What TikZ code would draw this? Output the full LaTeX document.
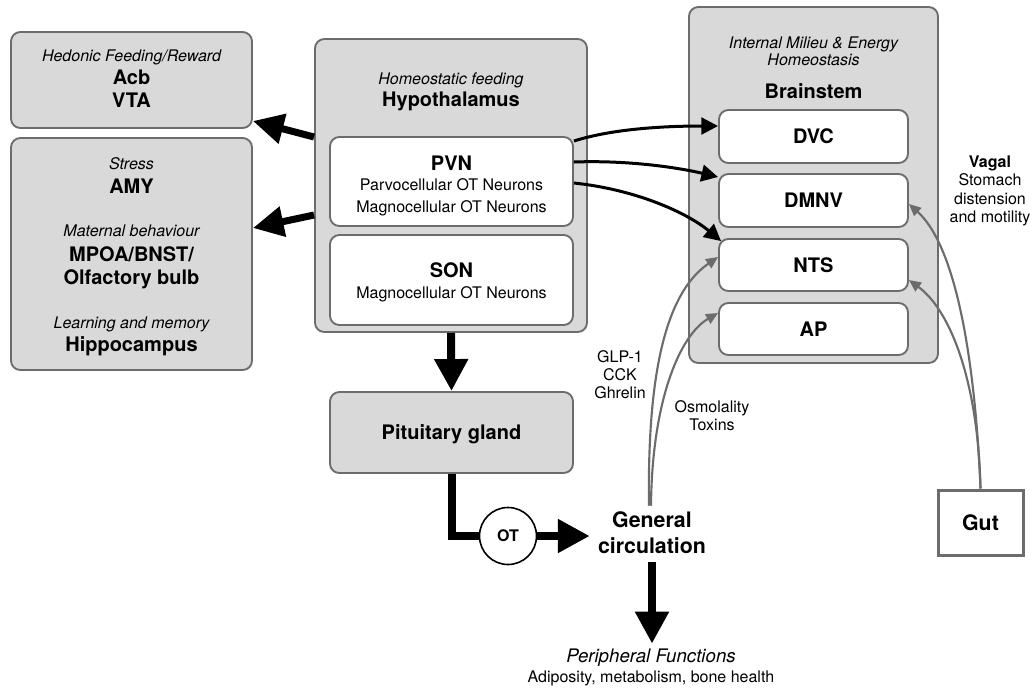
\documentclass[tikz,border=0pt]{standalone}
\usepackage{fontspec}
\setmainfont{TeX Gyre Heros}
\usetikzlibrary{arrows.meta,calc}
\definecolor{boxgray}{HTML}{D9D9D9}
\definecolor{linegray}{HTML}{6C6C6C}
\begin{document}
\begin{tikzpicture}[x=0.75pt,y=-0.75pt,
  region/.style={draw=linegray, fill=boxgray, line width=1.4pt, rounded corners=7pt, inner sep=0pt},
  sub/.style={draw=linegray, fill=white, line width=1.4pt, rounded corners=7pt, inner sep=0pt, font=\fontsize{15}{18}\selectfont\bfseries},
  lblit/.style={anchor=base, inner sep=0pt, font=\fontsize{12}{14}\selectfont\itshape},
  lblbf/.style={anchor=base, inner sep=0pt, font=\fontsize{15}{18}\selectfont\bfseries},
  lblsm/.style={anchor=base, inner sep=0pt, font=\fontsize{12}{14}\selectfont},
  lblsmbf/.style={anchor=base, inner sep=0pt, font=\fontsize{12}{14}\selectfont\bfseries},
  bigarrow/.style={line width=6pt, -{Triangle[length=24pt,width=24pt]}},
  sidearrow/.style={line width=5.25pt, -{Triangle[length=23pt,width=22pt]}},
  medarrow/.style={line width=2.25pt, -{Triangle[length=12.5pt,width=12.5pt]}},
  grayarrow/.style={draw=linegray, line width=1.6pt, -{Triangle[length=9pt,width=8pt]}},
]
\path[fill=white,use as bounding box] (0,0) rectangle (1036,687);

% left regions
\node[region, minimum width=180.75pt, minimum height=72pt] (hedonic) at (131.5,80) {};
\node[region, minimum width=180.75pt, minimum height=174pt] (stress) at (131.5,254) {};
\node[lblit] (hedt) at (131.5,61) {Hedonic Feeding/Reward};
\node[lblbf] (acb) at (131.5,84) {Acb};
\node[lblbf] (vta) at (131.5,107) {VTA};
\node[lblit] (strt) at (131.5,169) {Stress};
\node[lblbf] (amy) at (131.5,193) {AMY};
\node[lblit] (matt) at (131.5,236) {Maternal behaviour};
\node[lblbf] (mpoa) at (131.5,261) {MPOA/BNST/};
\node[lblbf] (olf) at (131.5,284) {Olfactory bulb};
\node[lblit] (learn) at (131.5,328) {Learning and memory};
\node[lblbf] (hippo) at (131.5,351) {Hippocampus};

% hypothalamus
\node[region, minimum width=204pt, minimum height=219.75pt] (hypo) at (451,185.5) {};
\node[lblit] (homt) at (451,84) {Homeostatic feeding};
\node[lblbf] (hypt) at (451,106) {Hypothalamus};
\node[sub, minimum width=182.25pt, minimum height=66.75pt] (pvn) at (451.5,181.5) {};
\node[lblbf] (pvnt) at (451.5,170) {PVN};
\node[lblsm] (parvo) at (451.5,190) {Parvocellular OT Neurons};
\node[lblsm] (magno) at (451.5,212) {Magnocellular OT Neurons};
\node[sub, minimum width=182.25pt, minimum height=67.5pt] (son) at (451.5,280) {};
\node[lblbf] (sont) at (451.5,277) {SON};
\node[lblsm] (magno2) at (451.5,298) {Magnocellular OT Neurons};

% brainstem
\node[region, minimum width=186.75pt, minimum height=267pt] (brain) at (813.5,185) {};
\node[lblit] (intt) at (813.5,48) {Internal Milieu \& Energy};
\node[lblit] (homeo) at (813.5,65) {Homeostasis};
\node[lblbf] (braint) at (813.5,98) {Brainstem};
\node[sub, minimum width=141.75pt, minimum height=39.75pt] (dvc) at (813.5,136.5) {DVC};
\node[sub, minimum width=141.75pt, minimum height=39.75pt] (dmnv) at (813.5,200.5) {DMNV};
\node[sub, minimum width=141.75pt, minimum height=39pt] (nts) at (813.5,265) {NTS};
\node[sub, minimum width=141.75pt, minimum height=39pt] (ap) at (813.5,329) {AP};

% pituitary, OT, circulation
\node[region, minimum width=182.25pt, minimum height=60.75pt, text depth=0pt, font=\fontsize{15}{18}\selectfont\bfseries] (pit) at (451.5,432.5) {Pituitary gland};
\node[circle, draw=black, fill=white, line width=1.2pt, minimum size=42.75pt, inner sep=0pt, font=\fontsize{12}{14}\selectfont\bfseries] (ot) at (508,536) {OT};
\node[align=center, inner sep=6pt, font=\fontsize{16}{19.5}\selectfont\bfseries] (gc) at (652,533) {General\\circulation};
\node[anchor=base, font=\fontsize{14}{16}\selectfont\itshape] (periph) at (651,662) {Peripheral Functions};
\node[lblsm] (periphsub) at (651,682) {Adiposity, metabolism, bone health};

% gut
\node[draw=linegray, fill=white, line width=2.25pt, minimum width=63.75pt, minimum height=48.75pt, font=\fontsize{16}{19}\selectfont\bfseries] (gut) at (980.5,522.5) {Gut};

% labels
\node[lblsmbf] (vagal) at (990,167) {Vagal};
\node[lblsm] (stom) at (990,185) {Stomach};
\node[lblsm] (dist) at (990,204) {distension};
\node[lblsm] (motil) at (990,222) {and motility};
\node[lblsm] (glp) at (620,362) {GLP-1};
\node[lblsm] (cck) at (620,380) {CCK};
\node[lblsm] (ghr) at (620,398) {Ghrelin};
\node[lblsm] (osm) at (712,412) {Osmolality};
\node[lblsm] (tox) at (712,430) {Toxins};

% black connectors
\draw[sidearrow] (hypo.west |- 0,137) -- (hedonic.east |- 0,121);
\draw[sidearrow] (hypo.west |- 0,215) -- (stress.east |- 0,228);
\draw[bigarrow] (hypo.south) -- (pit.north);
\draw[line width=6pt, line join=miter] (pit.south) |- (ot.west);
\draw[line width=6pt, -{Triangle[length=24pt,width=24pt]}] (ot.east) -- (ot.east -| gc.west);
\draw[bigarrow] (gc.south) -- (gc.south |- periph.north);

\draw[medarrow] (pvn.east |- 0,141) .. controls (615,128) and (670,126) .. (dvc.west |- 0,126);
\draw[medarrow] (pvn.east |- 0,162) .. controls (630,160) and (680,168) .. (dmnv.west |- 0,177);
\draw[medarrow] (pvn.east |- 0,183) .. controls (640,190) and (690,215) .. ($(nts.north west)+(3,3)$);

% gray connectors
\draw[grayarrow] ($(gc.north)+(-3,2)$) .. controls (647,360) and (670,290) .. (nts.west |- 0,257);
\draw[grayarrow] ($(gc.north)+(-1,2)$) .. controls (652,400) and (680,335) .. (ap.west |- 0,313);
\draw[grayarrow] (gut.north) .. controls (976,380) and (960,250) .. (dmnv.east |- 0,204);
\draw[grayarrow] (gut.north) .. controls (978,380) and (950,310) .. (nts.east |- 0,280);
\end{tikzpicture}
\end{document}
